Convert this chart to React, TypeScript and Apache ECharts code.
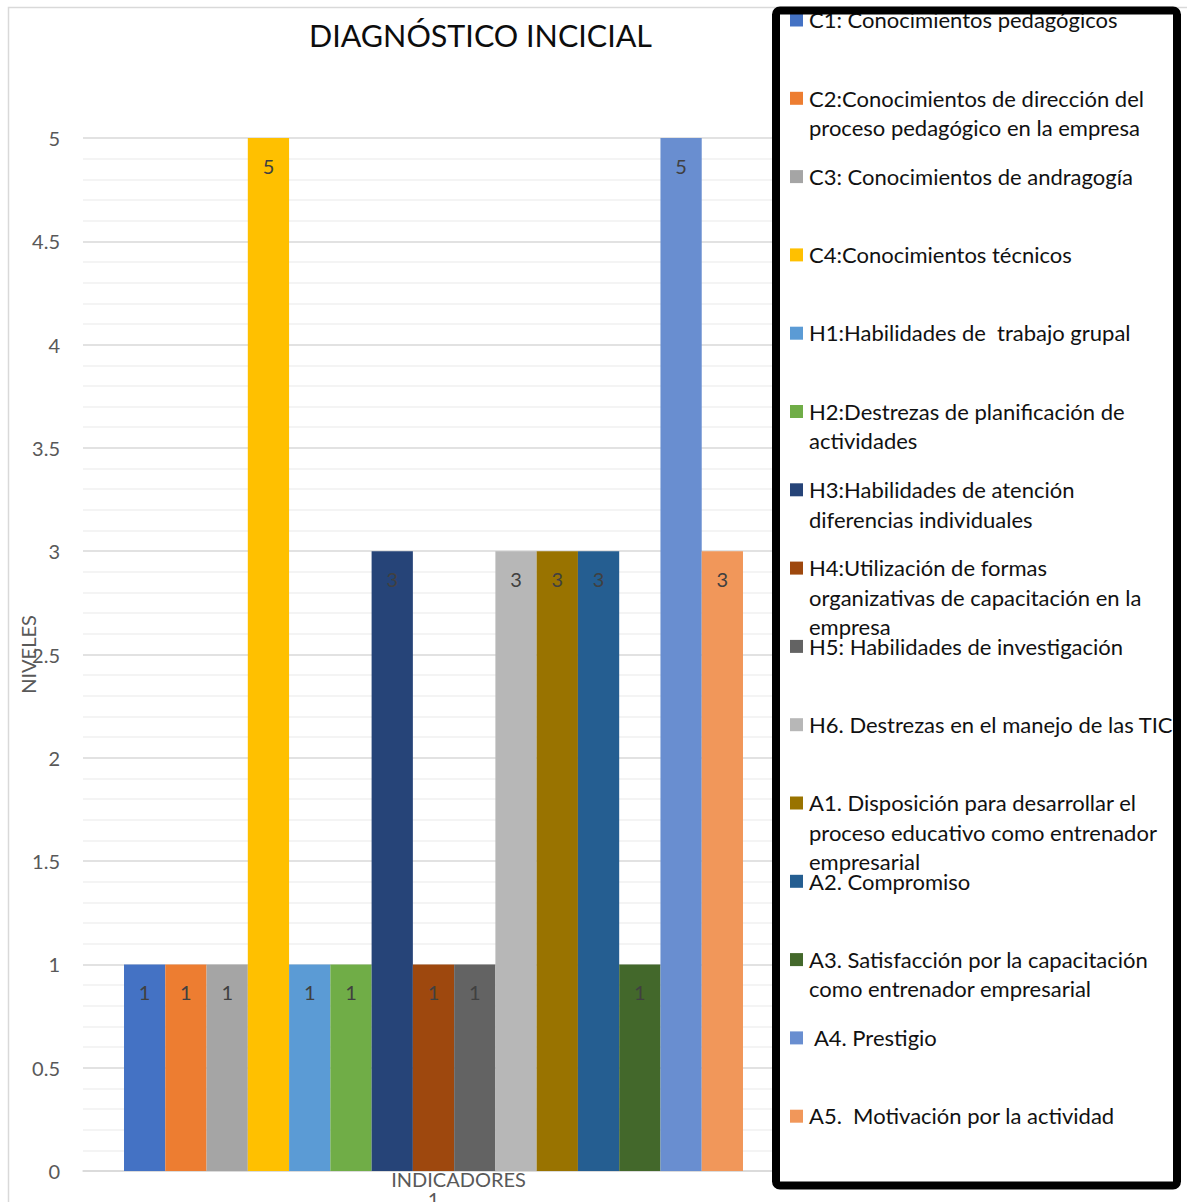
import React, { useEffect, useRef } from 'react';
import * as echarts from 'echarts';

const categories = ['1'];
const seriesNames = [
  'C1: Conocimientos pedagógicos',
  'C2:Conocimientos de dirección del proceso pedagógico en la empresa',
  'C3: Conocimientos de andragogía',
  'C4:Conocimientos técnicos',
  'H1:Habilidades de  trabajo grupal',
  'H2:Destrezas de planificación de actividades',
  'H3:Habilidades de atención diferencias individuales',
  'H4:Utilización de formas organizativas de capacitación en la empresa',
  'H5: Habilidades de investigación',
  'H6. Destrezas en el manejo de las TIC',
  'A1. Disposición para desarrollar el proceso educativo como entrenador empresarial',
  'A2. Compromiso',
  'A3. Satisfacción por la capacitación como entrenador empresarial',
  ' A4. Prestigio',
  'A5.  Motivación por la actividad',
];
const legendLines = [
  ['C1: Conocimientos pedagógicos'],
  ['C2:Conocimientos de dirección del', 'proceso pedagógico en la empresa'],
  ['C3: Conocimientos de andragogía'],
  ['C4:Conocimientos técnicos'],
  ['H1:Habilidades de  trabajo grupal'],
  ['H2:Destrezas de planificación de', 'actividades'],
  ['H3:Habilidades de atención', 'diferencias individuales'],
  ['H4:Utilización de formas', 'organizativas de capacitación en la', 'empresa'],
  ['H5: Habilidades de investigación'],
  ['H6. Destrezas en el manejo de las TIC'],
  ['A1. Disposición para desarrollar el', 'proceso educativo como entrenador', 'empresarial'],
  ['A2. Compromiso'],
  ['A3. Satisfacción por la capacitación', 'como entrenador empresarial'],
  [' A4. Prestigio'],
  ['A5.  Motivación por la actividad'],
];
const seriesValues = [1, 1, 1, 5, 1, 1, 3, 1, 1, 3, 3, 3, 1, 5, 3];
const seriesColors = [
  '#4472C4', '#ED7D31', '#A5A5A5', '#FFC000', '#5B9BD5', '#70AD47', '#264478',
  '#9E480E', '#636363', '#B7B7B7', '#997300', '#255E91', '#43682B', '#698ED0', '#F1975A',
];

const FONT = 'Lato, "Noto Sans", sans-serif';

export default function App() {
  const ref = useRef<HTMLDivElement>(null);
  useEffect(() => {
    if (!ref.current) return;
    const chart = echarts.init(ref.current, undefined, { renderer: 'svg' });

    const legendGraphics: any[] = [];
    legendLines.forEach((lines, i) => {
      const cy = 20 + i * 78.3;
      legendGraphics.push({
        type: 'rect',
        shape: { x: 790, y: cy - 6.5, width: 13, height: 13 },
        style: { fill: seriesColors[i] },
        z: 100,
      });
      legendGraphics.push({
        type: 'text',
        x: 809,
        y: cy - 15,
        style: {
          text: lines.join('\n'),
          fill: '#111111',
          fontFamily: FONT,
          fontSize: 22,
          lineHeight: 29.5,
          verticalAlign: 'top',
          align: 'left',
        },
        z: 100,
      });
    });

    const option: any = {
      animation: false,
      backgroundColor: '#ffffff',
      title: {
        text: 'DIAGNÓSTICO INCICIAL',
        left: 304,
        top: 14,
        textStyle: { fontFamily: FONT, fontSize: 30.5, fontWeight: 'normal', color: '#0d0d0d' },
      },
      grid: { left: 83, right: 403, top: 138, bottom: 31, containLabel: false, outerBoundsMode: 'none' },
      xAxis: {
        type: 'category',
        data: categories,
        name: 'INDICADORES',
        nameLocation: 'middle',
        nameGap: 8,
        nameMoveOverlap: false,
        nameTextStyle: {
          fontFamily: FONT, fontSize: 20, color: '#595959',
          verticalAlign: 'middle', padding: [0, 0, 0, 50],
        },
        axisLine: { lineStyle: { color: '#D9D9D9', width: 1.5 } },
        axisTick: { show: false },
        axisLabel: { fontFamily: FONT, fontSize: 20, color: '#595959', margin: 18 },
      },
      yAxis: {
        type: 'value',
        min: 0,
        max: 5,
        interval: 0.5,
        name: 'NIVELES',
        nameLocation: 'middle',
        nameGap: 45,
        nameMoveOverlap: false,
        nameTextStyle: { fontFamily: FONT, fontSize: 20, color: '#595959' },
        axisLine: { show: false },
        axisTick: { show: false },
        axisLabel: { fontFamily: FONT, fontSize: 20, color: '#595959', margin: 23 },
        splitLine: { lineStyle: { color: '#D9D9D9', width: 1.5 } },
        minorTick: { show: false, splitNumber: 5 },
        minorSplitLine: { show: true, lineStyle: { color: '#F0F0F0', width: 1.5 } },
      },
      series: seriesNames.map((name, i) => ({
        type: 'bar',
        name,
        data: [seriesValues[i]],
        barGap: '0%',
        barCategoryGap: '11.7%',
        itemStyle: { color: seriesColors[i] },
        label: {
          show: true,
          position: 'insideTop',
          distance: 18,
          fontFamily: FONT,
          fontSize: 20,
          color: '#404040',
        },
      })),
      graphic: [
        {
          type: 'rect',
          shape: { x: 8.5, y: 7.5, width: 1200, height: 1220 },
          style: { fill: 'none', stroke: '#D9D9D9', lineWidth: 1.5 },
          z: -10,
          silent: true,
        },
        ...legendGraphics,
        {
          type: 'rect',
          shape: { x: 776, y: 10.5, width: 401, height: 1175, r: 4 },
          style: { fill: 'none', stroke: '#000000', lineWidth: 8 },
          z: 101,
        },
        {
          type: 'rect',
          shape: { x: 780, y: 13, width: 393, height: 1168 },
          style: { fill: '#ffffff' },
          z: 50,
        },
      ],
    };
    chart.setOption(option);
    return () => chart.dispose();
  }, []);
  return (
    <div
      ref={ref}
      style={{ position: 'fixed', left: 0, top: 0, width: 1187, height: 1202 }}
    />
  );
}
